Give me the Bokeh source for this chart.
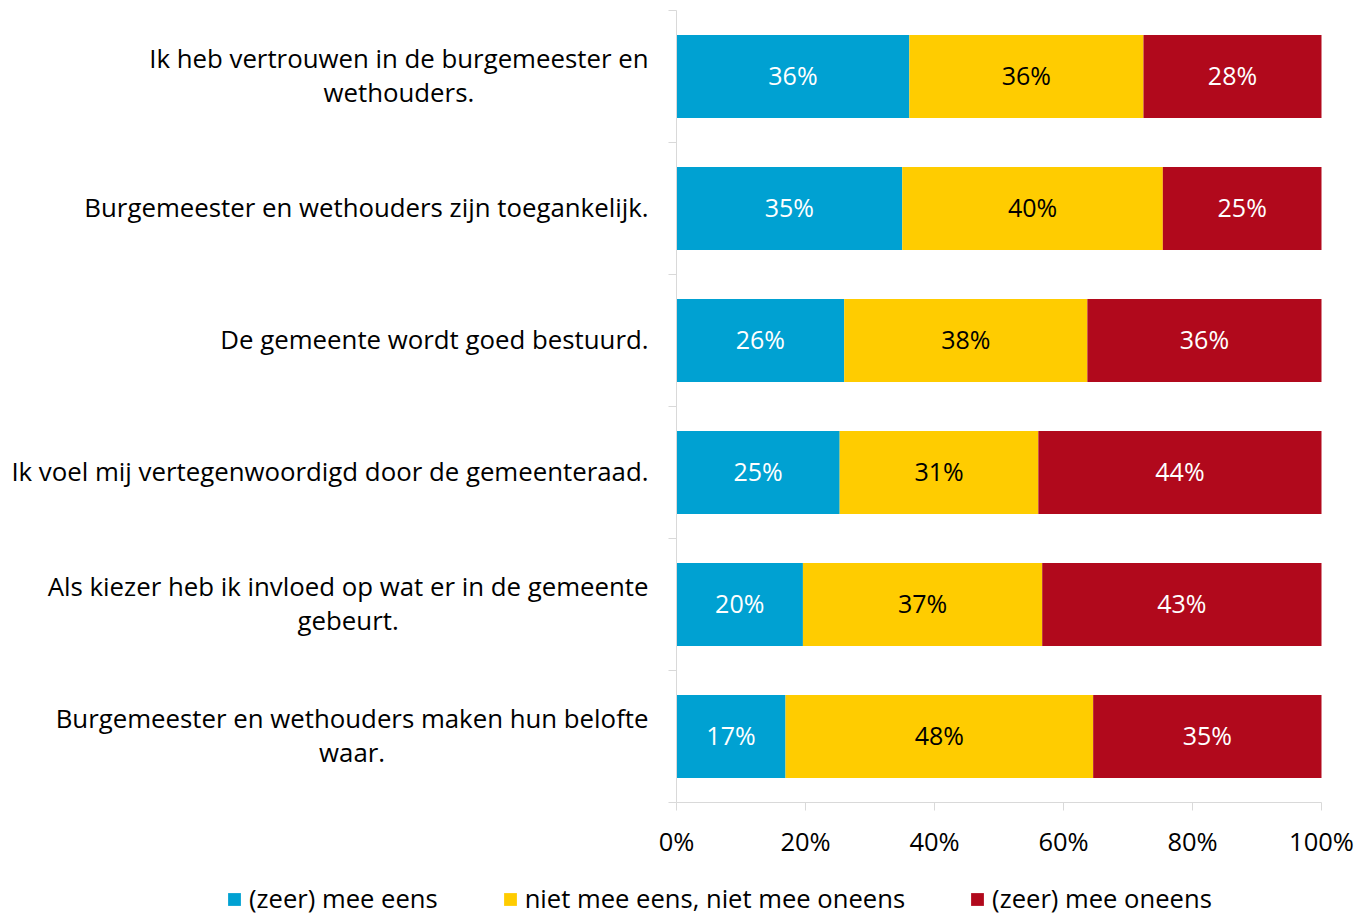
from bokeh.plotting import figure
from bokeh.models import Legend, LegendItem, ColumnDataSource, Range1d
from bokeh.embed import file_html
from bokeh.resources import INLINE
from bokeh.core.properties import value

statements = [
    "Ik heb vertrouwen in de burgemeester en\nwethouders.",
    "Burgemeester en wethouders zijn toegankelijk.",
    "De gemeente wordt goed bestuurd.",
    "Ik voel mij vertegenwoordigd door de gemeenteraad.",
    "Als kiezer heb ik invloed op wat er in de gemeente\ngebeurt.",
    "Burgemeester en wethouders maken hun belofte\nwaar.",
]
series_names = ["(zeer) mee eens", "niet mee eens, niet mee oneens", "(zeer) mee oneens"]
eens = [36.1, 35.0, 26.0, 25.3, 19.6, 16.9]
neutraal = [36.3, 40.4, 37.7, 30.8, 37.1, 47.7]
oneens = [27.6, 24.6, 36.3, 43.9, 43.3, 35.4]
x_ticks = [0, 20, 40, 60, 80, 100]

colors = ["#00A1D2", "#FFCC00", "#B1091C"]
label_colors = ["white", "black", "white"]
FONT = "Open Sans"
grey = "#D9D9D9"

W, H = 1356, 916
ZERO_PX, FULL_PX = 676, 1321      # screen x of 0% and 100%
TOP_PX, BOTTOM_PX = 10, 802       # screen y of the first and last row boundary
n = len(statements)
rows = list(range(n))

ux = 100.0 / (FULL_PX - ZERO_PX)          # data units per px (x)
uy = n / (BOTTOM_PX - TOP_PX)             # data units per px (y)


def px(x):
    return (x - ZERO_PX) * ux


def py(y):
    return -0.5 + (y - TOP_PX) * uy


p = figure(width=W, height=H, x_range=Range1d(px(0), px(W)), y_range=Range1d(py(H), py(0)),
           output_backend="svg", toolbar_location=None,
           x_axis_location=None, y_axis_location=None,
           min_border_left=0, min_border_right=0, min_border_top=0, min_border_bottom=0)
p.outline_line_color = None
p.xgrid.visible = False
p.ygrid.visible = False

series = [eens, neutraal, oneens]
left = [0.0] * n
items = []
for vals, name, col, lcol in zip(series, series_names, colors, label_colors):
    right = [l + v for l, v in zip(left, vals)]
    src = ColumnDataSource(dict(
        y=rows, left=left, right=right,
        mid=[(l + r) / 2 for l, r in zip(left, right)],
        lab=[f"{round(v)}%" for v in vals],
    ))
    r = p.hbar(y="y", left="left", right="right", height=0.63, source=src,
               fill_color=col, line_color=None)
    p.text(x="mid", y="y", text="lab", source=src, text_align="center",
           text_baseline="middle", text_color=lcol, text_font=value(FONT),
           text_font_size="25px", y_offset=-1.5)
    items.append(LegendItem(label=name, renderers=[r]))
    left = right

# category axis: line at 0 and separator ticks between rows
bounds = [i - 0.5 for i in range(n + 1)]
p.segment(x0=[0], y0=[bounds[0]], x1=[0], y1=[bounds[-1]], line_color=grey, line_width=1)
p.segment(x0=[px(ZERO_PX - 8)] * len(bounds), y0=bounds, x1=[0] * len(bounds), y1=bounds,
          line_color=grey, line_width=1)

# category labels: right-aligned block with centred lines
lab_src = ColumnDataSource(dict(x=[px(648)] * n, y=rows, t=statements))
p.text(x="x", y="y", text="t", source=lab_src, text_align="center", anchor="center_right",
       text_baseline="middle", text_line_height=0.97, text_color="black",
       text_font=value(FONT), text_font_size="25.8px", y_offset=-1.5)

# value axis: line, ticks and tick labels
y_axis = bounds[-1]
p.segment(x0=[0], y0=[y_axis], x1=[100], y1=[y_axis], line_color=grey, line_width=1)
p.segment(x0=x_ticks, y0=[y_axis] * len(x_ticks), x1=x_ticks,
          y1=[y_axis + 8 * uy] * len(x_ticks), line_color=grey, line_width=1)
tick_src = ColumnDataSource(dict(x=x_ticks, y=[y_axis + 38 * uy] * len(x_ticks),
                                 t=[f"{t}%" for t in x_ticks]))
p.text(x="x", y="y", text="t", source=tick_src, text_align="center", text_baseline="middle",
       text_color="black", text_font=value(FONT), text_font_size="25.5px")

legend = Legend(items=items, orientation="horizontal", location=(226, 0),
                spacing=64, glyph_width=16, glyph_height=16, label_standoff=7,
                padding=0, margin=0, border_line_color=None, background_fill_alpha=0,
                label_text_font=FONT, label_text_font_size="25.6px", label_text_color="black")
p.add_layout(legend)

open("out.html", "w").write(file_html(p, INLINE))
